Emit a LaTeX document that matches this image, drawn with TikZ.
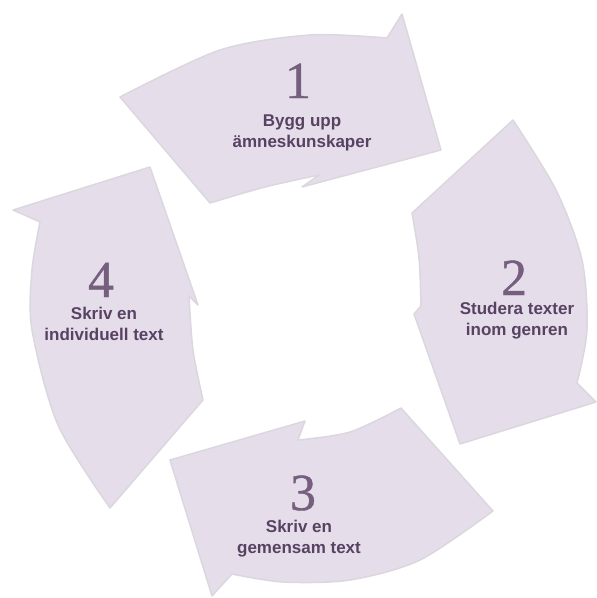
\documentclass[tikz,border=0pt]{standalone}
\usepackage{fontspec}
\setmainfont{Liberation Serif}
\newfontfamily\numfont{Liberation Serif}[FakeBold=0.8]
\newfontfamily\lblfont{Liberation Sans}
\definecolor{arrowfill}{RGB}{230,221,235}
\definecolor{arrowedge}{RGB}{219,215,222}
\definecolor{numcol}{RGB}{118,95,126}
\definecolor{lblcol}{RGB}{88,66,98}
\begin{document}
\begin{tikzpicture}[x=1pt,y=-1pt,
  arrowshape/.style={fill=arrowfill, draw=arrowedge, line width=1.5pt, line join=round},
  num/.style={font=\numfont\fontsize{52}{52}\selectfont, text=numcol, inner sep=0pt, anchor=base},
  lbl/.style={font=\lblfont\bfseries\fontsize{17}{20.5}\selectfont, text=lblcol, align=center, inner sep=0pt, anchor=north}]
\useasboundingbox (0,0) rectangle (597,598);
% arrow 1 (top)
\path[arrowshape] (120,97) -- plot[smooth] coordinates {(120,97) (220,50) (310,35) (387,38)}
  -- (402,14) -- (441,150) -- (302,187) -- (319,175)
  -- plot[smooth] coordinates {(319,175) (265,187) (210,203)} -- cycle;
% arrow 2 (right)
\path[arrowshape] (513,120) -- plot[smooth] coordinates {(513,120) (556,190) (582,260) (587,330) (577,383)}
  -- (596,402) -- (460,444) -- (414,314) -- (421,306)
  -- plot[smooth] coordinates {(421,306) (419,258) (412,213)} -- cycle;
% arrow 3 (bottom)
\path[arrowshape] (493,511) -- plot[smooth] coordinates {(493,511) (420,560) (350,580) (283,582) (232,574)}
  -- (212,596) -- (170,460) -- (305,421) -- (298,440)
  -- plot[smooth] coordinates {(298,440) (350,432) (401,408)} -- cycle;
% arrow 4 (left)
\path[arrowshape] (110,508) -- plot[smooth] coordinates {(110,508) (58,425) (32,330) (32,270) (40,222)}
  -- (13,210) -- (150,167) -- (198,305) -- (189,296)
  -- plot[smooth] coordinates {(189,296) (193,350) (203,400)} -- cycle;
% texts
\node[num] (n1) at (298,98) {1};
\node[lbl] (l1) at (302,115) {Bygg upp\\ämneskunskaper};
\node[num] (n2) at (514,295) {2};
\node[lbl] (l2) at (517,302) {Studera texter\\inom genren};
\node[num] (n3) at (303,510) {3};
\node[lbl] (l3) at (299,520) {Skriv en\\gemensam text};
\node[num] (n4) at (101,297) {4};
\node[lbl] (l4) at (104,307) {Skriv en\\individuell text};
\end{tikzpicture}
\end{document}
